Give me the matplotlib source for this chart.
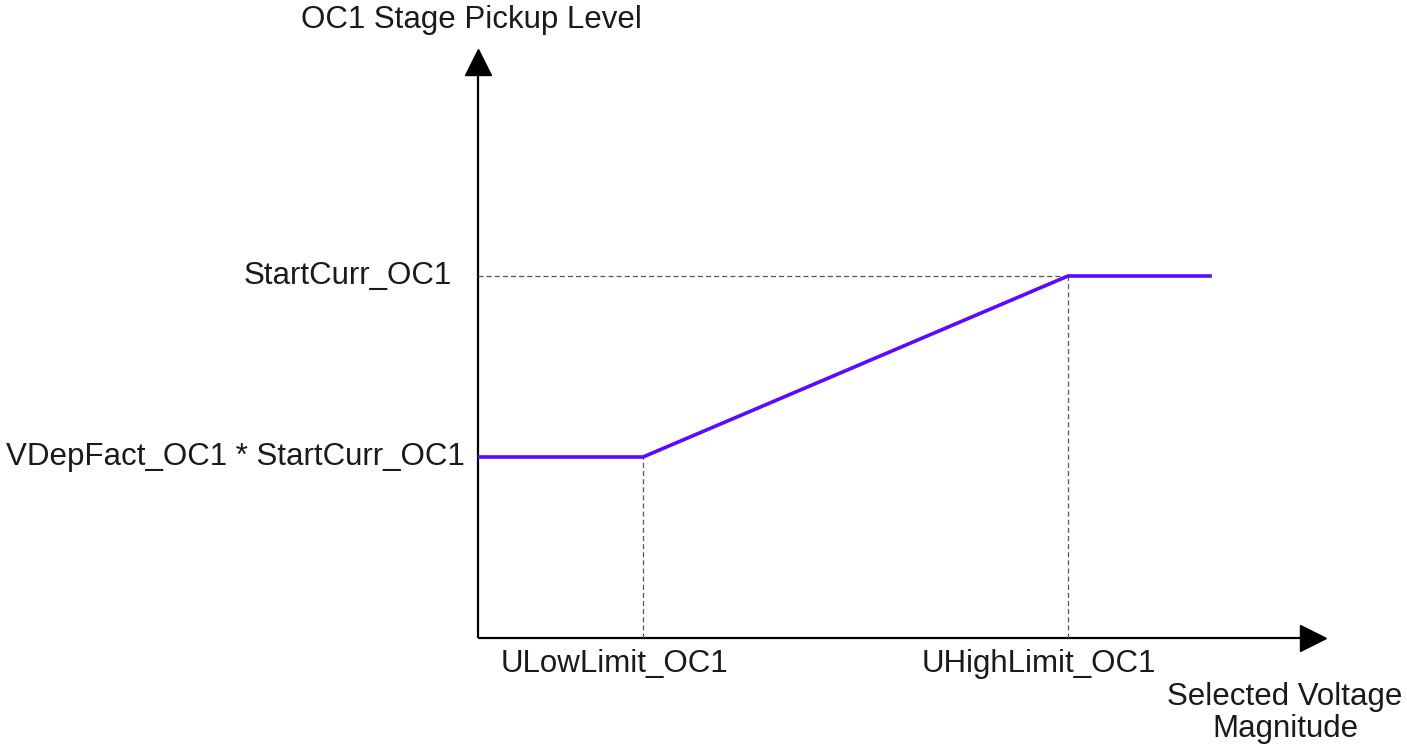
import matplotlib.pyplot as plt

plt.rcParams['font.family'] = ['Liberation Sans', 'DejaVu Sans']

# characteristic points (arbitrary units)
volt = [0.0, 1.65, 5.90, 7.32]
pickup = [1.81, 1.81, 3.62, 3.62]
x_ticks = [1.65, 5.90]
x_labels = ['ULowLimit_OC1', 'UHighLimit_OC1']
y_ticks = [1.81, 3.62]
y_labels = ['VDepFact_OC1 * StartCurr_OC1', 'StartCurr_OC1']
x_max = 8.47
y_max = 5.88

fig = plt.figure(figsize=(14.07, 7.47), dpi=100)
ax = fig.add_axes([478 / 1407, 109 / 747, 847 / 1407, 588 / 747])
ax.set_xlim(0, x_max)
ax.set_ylim(0, y_max)
ax.axis('off')

# axes with arrow heads
ax.plot([0, x_max - 0.2], [0, 0], color='black', lw=1.6, solid_capstyle='butt', clip_on=False)
ax.plot([0, 0], [0, y_max - 0.2], color='black', lw=1.6, solid_capstyle='butt', clip_on=False)
ax.plot([x_max - 0.12], [0], marker='>', color='black', ms=19, clip_on=False)
ax.plot([0], [y_max - 0.12], marker='^', color='black', ms=19, clip_on=False)

# dashed guides
dash = (0, (4, 2.5))
ax.plot([x_ticks[0], x_ticks[0]], [0, y_ticks[0]], ls=dash, color='#555555', lw=0.9)
ax.plot([x_ticks[1], x_ticks[1]], [0, y_ticks[1]], ls=dash, color='#555555', lw=0.9)
ax.plot([0, x_ticks[1]], [y_ticks[1], y_ticks[1]], ls=dash, color='#555555', lw=0.9)

# pickup characteristic
ax.plot(volt, pickup, color='#5a0aff', lw=2.6, solid_joinstyle='miter', zorder=5)

fs = 22.5
txt = '#1a1a1a'
for xv, lab in zip(x_ticks, x_labels):
    ax.text(xv - 0.29, -0.26, lab, ha='center', va='center', fontsize=fs, color=txt)
ax.text(-0.13, y_ticks[0], y_labels[0], ha='right', va='center', fontsize=fs, color=txt)
ax.text(-0.26, y_ticks[1], y_labels[1], ha='right', va='center', fontsize=fs, color=txt)

ax.text(-0.07, y_max + 0.30, 'OC1 Stage Pickup Level', ha='center', va='center',
        fontsize=fs, color=txt, clip_on=False)
ax.text(8.07, -0.75, 'Selected Voltage\nMagnitude', ha='center', va='center',
        fontsize=fs, color=txt, linespacing=1.12, clip_on=False)

fig.savefig('out.png', dpi=100)
